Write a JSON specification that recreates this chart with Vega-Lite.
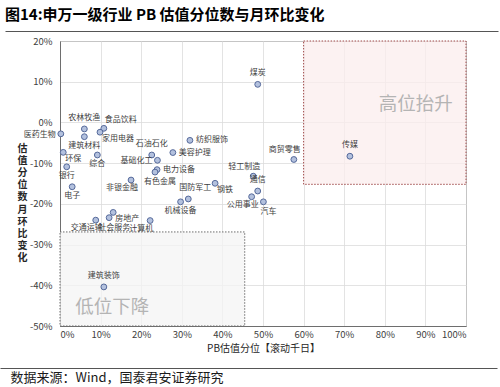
{
  "$schema": "https://vega.github.io/schema/vega-lite/v6.json",
  "autosize": "none",
  "width": 406,
  "height": 285,
  "padding": {"left": 60, "top": 41, "right": 34, "bottom": 61},
  "background": "white",
  "config": {
    "view": {"stroke": "#6e6e6e", "strokeWidth": 1},
    "font": "Noto Sans CJK SC",
    "axis": {"labelFont": "Noto Sans CJK SC", "titleFont": "Noto Sans CJK SC"}
  },
  "title": {
    "text": "图14:申万一级行业 PB 估值分位数与月环比变化",
    "anchor": "start",
    "frame": "group",
    "dx": -55,
    "offset": 8,
    "fontSize": 15,
    "fontWeight": "bold",
    "font": "Noto Sans CJK SC",
    "color": "#000000"
  },
  "datasets": {
    "pts": [
      {"name": "医药生物", "pb": 0.2, "chg": -2.8},
      {"name": "农林牧渔", "pb": 6.0, "chg": -1.6},
      {"name": "建筑材料", "pb": 6.0, "chg": -3.5},
      {"name": "食品饮料", "pb": 10.8, "chg": -1.45},
      {"name": "家用电器", "pb": 9.85, "chg": -2.4},
      {"name": "环保", "pb": 0.8, "chg": -7.35},
      {"name": "综合", "pb": 9.2, "chg": -8.0},
      {"name": "银行", "pb": 1.65, "chg": -10.9},
      {"name": "电子", "pb": 3.0, "chg": -15.8},
      {"name": "石油石化", "pb": 22.6, "chg": -8.0},
      {"name": "基础化工", "pb": 24.0, "chg": -9.3},
      {"name": "电力设备", "pb": 23.9, "chg": -11.6},
      {"name": "有色金属", "pb": 23.4, "chg": -12.2},
      {"name": "美容护理", "pb": 27.8, "chg": -7.4},
      {"name": "纺织服饰", "pb": 32.0, "chg": -4.4},
      {"name": "非银金融", "pb": 17.5, "chg": -14.15},
      {"name": "钢铁", "pb": 38.2, "chg": -14.95},
      {"name": "国防军工", "pb": 31.6, "chg": -18.8},
      {"name": "机械设备", "pb": 29.7, "chg": -19.5},
      {"name": "房地产", "pb": 13.1, "chg": -22.1},
      {"name": "社会服务", "pb": 12.1, "chg": -23.4},
      {"name": "交通运输", "pb": 8.8, "chg": -24.0},
      {"name": "计算机", "pb": 22.2, "chg": -24.1},
      {"name": "建筑装饰", "pb": 10.8, "chg": -40.4},
      {"name": "煤炭", "pb": 48.7, "chg": 9.35},
      {"name": "商贸零售", "pb": 57.6, "chg": -9.1},
      {"name": "传媒", "pb": 71.4, "chg": -8.3},
      {"name": "轻工制造", "pb": 47.6, "chg": -13.2},
      {"name": "通信", "pb": 48.7, "chg": -16.85},
      {"name": "公用事业", "pb": 47.2, "chg": -18.25},
      {"name": "汽车", "pb": 50.1, "chg": -19.5}
    ],
    "zones": [
      {"zone": "高位抬升", "x1": 60, "x2": 100, "y1": -15.2, "y2": 20, "lx": 87.6, "ly": 4.5},
      {"zone": "低位下降", "x1": 0, "x2": 45.5, "y1": -50, "y2": -26.9, "lx": 12.9, "ly": -45.3}
    ],
    "dummy": [{"v": 0}, {"v": 1}]
  },
  "resolve": {"scale": {"x": "independent"}, "axis": {"x": "independent"}},
  "layer": [
    {
      "layer": [
        {
          "data": {"name": "zones"},
          "mark": {"type": "rect", "strokeDash": [1.5, 1.5], "strokeWidth": 1},
          "encoding": {
            "x": {
              "field": "x1", "type": "quantitative",
              "scale": {"domain": [0, 100], "nice": false, "zero": false},
              "axis": {
                "values": [0, 10, 20, 30, 40, 50, 60, 70, 80, 90, 100],
                "labelExpr": "datum.value + '%'",
                "ticks": false,
                "domain": true,
                "domainColor": "#6e6e6e",
                "grid": true,
                "gridColor": "#dcdcdc",
                "gridWidth": 0.8,
                "labelFontSize": 9.5,
                "labelColor": "#404040",
                "labelPadding": 3,
                "title": "PB估值分位【滚动千日】",
                "titleFontSize": 10,
                "titleFontWeight": "normal",
                "titleColor": "#262626",
                "titleBaseline": "middle",
                "titleY": 22
              }
            },
            "x2": {"field": "x2"},
            "y": {
              "field": "y1", "type": "quantitative",
              "scale": {"domain": [-50, 20], "nice": false, "zero": false},
              "axis": {
                "values": [-50, -40, -30, -20, -10, 0, 10, 20],
                "labelExpr": "datum.value + '%'",
                "ticks": false,
                "domain": true,
                "domainColor": "#6e6e6e",
                "grid": true,
                "gridColor": "#dcdcdc",
                "gridWidth": 0.8,
                "labelFontSize": 9.5,
                "labelColor": "#404040",
                "labelPadding": 8,
                "title": ["估", "值", "分", "位", "数", "月", "环", "比", "变", "化"],
                "titleAngle": 0,
                "titleAlign": "center",
                "titleBaseline": "top",
                "titleX": -38,
                "titleY": 102,
                "titleLineHeight": 12.2,
                "titleFontSize": 10,
                "titleFontWeight": "bold",
                "titleColor": "#262626"
              }
            },
            "y2": {"field": "y2"},
            "fill": {
              "field": "zone", "type": "nominal",
              "scale": {"domain": ["高位抬升", "低位下降"], "range": ["#fbeeee", "#f4f4f4"]},
              "legend": null
            },
            "fillOpacity": {"value": 0.75},
            "stroke": {
              "field": "zone", "type": "nominal",
              "scale": {"domain": ["高位抬升", "低位下降"], "range": ["#a04a4a", "#6e6e6e"]},
              "legend": null
            }
          }
        },
        {
          "data": {"name": "zones"},
          "mark": {"type": "text", "fontSize": 18.5, "color": "#b4b4b4", "align": "center", "baseline": "middle"},
          "encoding": {
            "x": {"field": "lx", "type": "quantitative"},
            "y": {"field": "ly", "type": "quantitative"},
            "text": {"field": "zone"}
          }
        },
        {
          "data": {"name": "pts"},
          "mark": {"type": "point", "shape": "circle", "filled": true, "size": 34, "fill": "#b3c1de", "stroke": "#55699a", "strokeWidth": 1, "opacity": 1},
          "encoding": {
            "x": {"field": "pb", "type": "quantitative"},
            "y": {"field": "chg", "type": "quantitative"}
          }
        },
        {
          "data": {"name": "pts"},
          "transform": [{"filter": {"field": "name", "oneOf": ["农林牧渔", "石油石化", "建筑装饰", "煤炭", "传媒", "通信"]}}],
          "mark": {"type": "text", "fontSize": 8, "color": "#404040", "align": "center", "baseline": "middle", "dy": -11},
          "encoding": {"x": {"field": "pb", "type": "quantitative"}, "y": {"field": "chg", "type": "quantitative"}, "text": {"field": "name"}}
        },
        {
          "data": {"name": "pts"},
          "transform": [{"filter": {"field": "name", "oneOf": ["国防军工"]}}],
          "mark": {"type": "text", "fontSize": 8, "color": "#404040", "align": "center", "baseline": "middle", "dx": 7, "dy": -11},
          "encoding": {"x": {"field": "pb", "type": "quantitative"}, "y": {"field": "chg", "type": "quantitative"}, "text": {"field": "name"}}
        },
        {
          "data": {"name": "pts"},
          "transform": [{"filter": {"field": "name", "oneOf": ["综合", "银行", "电子", "建筑材料", "机械设备"]}}],
          "mark": {"type": "text", "fontSize": 8, "color": "#404040", "align": "center", "baseline": "middle", "dy": 9},
          "encoding": {"x": {"field": "pb", "type": "quantitative"}, "y": {"field": "chg", "type": "quantitative"}, "text": {"field": "name"}}
        },
        {
          "data": {"name": "pts"},
          "transform": [{"filter": {"field": "name", "oneOf": ["有色金属", "社会服务", "汽车"]}}],
          "mark": {"type": "text", "fontSize": 8, "color": "#404040", "align": "center", "baseline": "middle", "dx": 5, "dy": 10},
          "encoding": {"x": {"field": "pb", "type": "quantitative"}, "y": {"field": "chg", "type": "quantitative"}, "text": {"field": "name"}}
        },
        {
          "data": {"name": "pts"},
          "transform": [{"filter": {"field": "name", "oneOf": ["非银金融", "交通运输", "公用事业", "计算机"]}}],
          "mark": {"type": "text", "fontSize": 8, "color": "#404040", "align": "center", "baseline": "middle", "dx": -9, "dy": 8},
          "encoding": {"x": {"field": "pb", "type": "quantitative"}, "y": {"field": "chg", "type": "quantitative"}, "text": {"field": "name"}}
        },
        {
          "data": {"name": "pts"},
          "transform": [{"filter": {"field": "name", "oneOf": ["商贸零售", "轻工制造"]}}],
          "mark": {"type": "text", "fontSize": 8, "color": "#404040", "align": "center", "baseline": "middle", "dx": -9, "dy": -9},
          "encoding": {"x": {"field": "pb", "type": "quantitative"}, "y": {"field": "chg", "type": "quantitative"}, "text": {"field": "name"}}
        },
        {
          "data": {"name": "pts"},
          "transform": [{"filter": {"field": "name", "oneOf": ["电力设备", "美容护理", "纺织服饰"]}}],
          "mark": {"type": "text", "fontSize": 8, "color": "#404040", "align": "left", "baseline": "middle", "dx": 6},
          "encoding": {"x": {"field": "pb", "type": "quantitative"}, "y": {"field": "chg", "type": "quantitative"}, "text": {"field": "name"}}
        },
        {
          "data": {"name": "pts"},
          "transform": [{"filter": {"field": "name", "oneOf": ["医药生物", "基础化工"]}}],
          "mark": {"type": "text", "fontSize": 8, "color": "#404040", "align": "right", "baseline": "middle", "dx": -5, "dy": 1},
          "encoding": {"x": {"field": "pb", "type": "quantitative"}, "y": {"field": "chg", "type": "quantitative"}, "text": {"field": "name"}}
        },
        {
          "data": {"name": "pts"},
          "transform": [{"filter": {"field": "name", "oneOf": ["食品饮料"]}}],
          "mark": {"type": "text", "fontSize": 8, "color": "#404040", "align": "left", "baseline": "middle", "dx": 1, "dy": -8},
          "encoding": {"x": {"field": "pb", "type": "quantitative"}, "y": {"field": "chg", "type": "quantitative"}, "text": {"field": "name"}}
        },
        {
          "data": {"name": "pts"},
          "transform": [{"filter": {"field": "name", "oneOf": ["家用电器", "环保", "房地产", "钢铁"]}}],
          "mark": {"type": "text", "fontSize": 8, "color": "#404040", "align": "left", "baseline": "middle", "dx": 2, "dy": 7},
          "encoding": {"x": {"field": "pb", "type": "quantitative"}, "y": {"field": "chg", "type": "quantitative"}, "text": {"field": "name"}}
        }
      ]
    },
    {
      "data": {"name": "dummy"},
      "mark": {"type": "point", "opacity": 0},
      "encoding": {
        "x": {
          "field": "v", "type": "quantitative",
          "scale": {"domain": [0, 1], "range": [-60, 437], "nice": false},
          "axis": {
            "orient": "bottom",
            "offset": 42,
            "labels": false,
            "ticks": false,
            "grid": false,
            "domain": true,
            "domainColor": "#555555",
            "domainWidth": 1,
            "title": "数据来源：Wind，国泰君安证券研究",
            "titleFontSize": 13,
            "titleFontWeight": "normal",
            "titleColor": "#1a1a1a",
            "titleAlign": "left",
            "titleAnchor": "start",
            "titleBaseline": "middle",
            "titleX": -50,
            "titleY": 9
          }
        }
      }
    },
    {
      "data": {"name": "dummy"},
      "mark": {"type": "point", "opacity": 0},
      "encoding": {
        "x": {
          "field": "v", "type": "quantitative",
          "scale": {"domain": [0, 1], "range": [-55, 438], "nice": false},
          "axis": {
            "orient": "top",
            "offset": 10,
            "labels": false,
            "ticks": false,
            "grid": false,
            "domain": true,
            "domainColor": "#555555",
            "domainWidth": 1,
            "title": null
          }
        }
      }
    }
  ]
}
